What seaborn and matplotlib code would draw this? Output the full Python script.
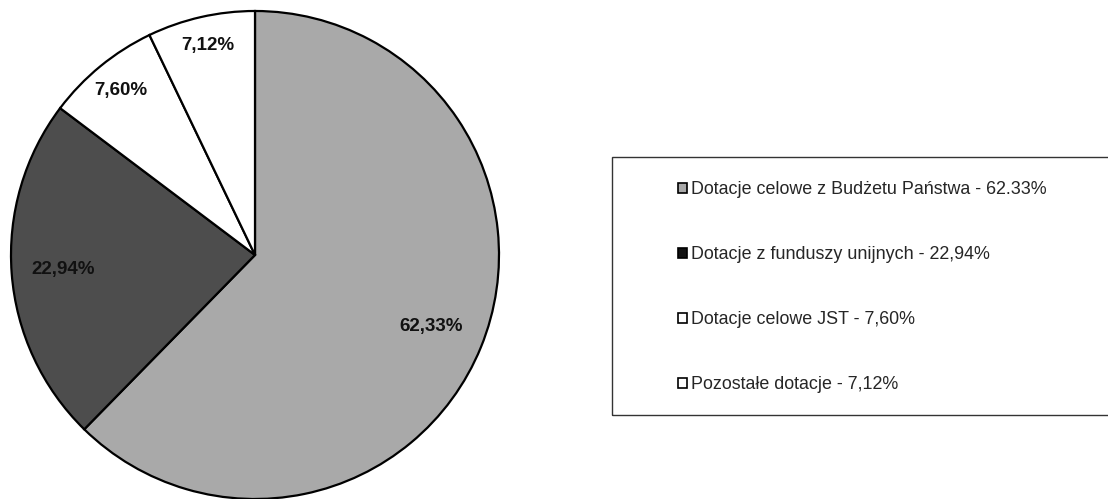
import numpy as np
import matplotlib
matplotlib.use("Agg")
import matplotlib.pyplot as plt
from matplotlib.patches import Patch, Rectangle
import seaborn as sns

# --- dane ---
categories = ["Dotacje celowe z Budżetu Państwa", "Dotacje z funduszy unijnych",
              "Dotacje celowe JST", "Pozostałe dotacje"]
values = [62.33, 22.94, 7.60, 7.12]
pie_labels = ["62,33%", "22,94%", "7,60%", "7,12%"]
legend_labels = ["Dotacje celowe z Budżetu Państwa - 62.33%",
                 "Dotacje z funduszy unijnych - 22,94%",
                 "Dotacje celowe JST - 7,60%",
                 "Pozostałe dotacje - 7,12%"]
colors = ["#a9a9a9", "#4d4d4d", "#ffffff", "#ffffff"]
legend_colors = ["#a9a9a9", "#111111", "#ffffff", "#ffffff"]
label_dist = [0.78, 0.79, 0.87, 0.88]

sns.set_theme(style="white")
plt.rcParams["font.family"] = ["Liberation Sans", "DejaVu Sans"]

fig = plt.figure(figsize=(11.08, 4.99), dpi=100)
fig.patch.set_facecolor("white")

# --- wykres kołowy ---
W, H = 1108, 499
cx, cy, r = 255, 255, 244
ax = fig.add_axes([(cx - r) / W, (H - cy - r) / H, 2 * r / W, 2 * r / H])
wedges, _ = ax.pie(values, colors=colors, startangle=90, counterclock=False,
                   radius=1, wedgeprops=dict(edgecolor="black", linewidth=1.6))
ax.set_xlim(-1, 1)
ax.set_ylim(-1, 1)
ax.set_aspect("equal")
ax.axis("off")

for w, lab, d in zip(wedges, pie_labels, label_dist):
    ang = np.deg2rad((w.theta1 + w.theta2) / 2)
    ax.text(d * np.cos(ang), d * np.sin(ang), lab, ha="center", va="center",
            fontsize=13.5, fontweight="bold", color="#111111")

# --- legenda ---
frame = Rectangle((612 / W, 1 - 415 / H), 520 / W, (415 - 157) / H,
                  transform=fig.transFigure, fill=False, edgecolor="#333333",
                  linewidth=1.0, clip_on=True)
fig.patches.append(frame)

handles = [Patch(facecolor=c, edgecolor="black", linewidth=1.2) for c in legend_colors]
fig.legend(handles, legend_labels, loc="upper left",
           bbox_to_anchor=(678 / W, 1 - 181 / H), frameon=False,
           fontsize=12.9, handlelength=0.5, handleheight=0.5,
           handletextpad=0.25, labelspacing=2.68, borderpad=0, borderaxespad=0)

plt.savefig("out.png", dpi=100, facecolor="white")
